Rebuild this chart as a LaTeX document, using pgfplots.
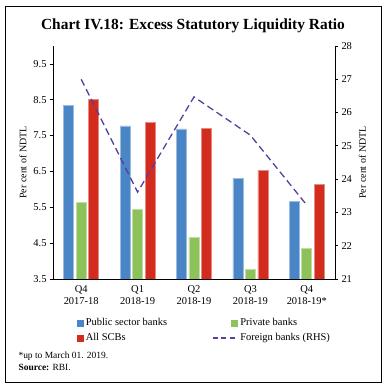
\documentclass[border=0pt]{standalone}
\usepackage{pgfplots}
\pgfplotsset{compat=1.18}
\usepackage{fontspec}
\setmainfont{Liberation Serif}
\definecolor{cblue}{HTML}{4A86C6}
\definecolor{cgreen}{HTML}{8DC25A}
\definecolor{cred}{HTML}{D42B1F}
\definecolor{cpurple}{HTML}{5B3D9C}
\begin{document}
\begin{tikzpicture}
\path[use as bounding box] (0bp,0bp) rectangle (387bp,390bp);
\draw[line width=0.9bp] (5bp,8bp) rectangle (381bp,384bp);
\node[font=\bfseries\fontsize{15.5}{17}\selectfont] at (193bp,364bp) {Chart IV.18: Excess Statutory Liquidity Ratio};
\node[anchor=base west, font=\fontsize{9.5}{11}\selectfont] at (15bp,32bp) {*up to March 01. 2019.};
\node[anchor=base west, font=\fontsize{9.5}{11}\selectfont] at (15bp,20bp) {\textbf{Source:} RBI.};
\begin{axis}[
  at={(53bp,111bp)}, anchor=south west,
  scale only axis, width=282bp, height=233bp,
  xmin=-0.5, xmax=4.5, ymin=3.5, ymax=10,
  axis y line*=left, axis x line*=bottom,
  axis line style={line width=0.8bp, -},
  xtick={0,1,2,3,4},
  xticklabels={{Q4\\2017-18},{Q1\\2018-19},{Q2\\2018-19},{Q3\\2018-19},{Q4\\2018-19*}},
  xticklabel style={align=center, font=\fontsize{10.5}{12}\selectfont},
  x tick style={draw=none},
  extra x ticks={0.5,1.5,2.5,3.5},
  extra x tick labels={},
  extra x tick style={tick style={draw=black, line width=0.8bp}, major tick length=3bp, tick pos=left, tick align=outside},
  ytick={3.5,4.5,...,9.5},
  yticklabel style={font=\fontsize{10.5}{12}\selectfont, /pgf/number format/.cd, fixed, fixed zerofill, precision=1},
  y tick style={line width=0.8bp, black},
  tick align=outside, major tick length=3bp,
  /pgf/number format/assume math mode=true,
  ylabel={Per cent of NDTL},
  ylabel style={font=\fontsize{10}{12}\selectfont},
  legend columns=2,
  legend cell align=left,
  legend style={at={(0.0177,-0.160)}, anchor=north west, draw=none, fill=none, inner sep=0pt,
    font=\fontsize{10.5}{12}\selectfont, row sep=2.5bp,
    /tikz/every even column/.append style={column sep=43bp}},
]
\addplot[ybar, bar width=10bp, bar shift=-12.5bp, fill=cblue, draw=cblue!55!white, line width=0.6bp,
  legend image code/.code={\fill[cblue] (19bp,-3bp) rectangle (25bp,3bp); \path (0bp,0bp);}]
  coordinates {(0,8.35) (1,7.77) (2,7.69) (3,6.31) (4,5.67)};
\addplot[ybar, bar width=10bp, bar shift=0bp, fill=cgreen, draw=cgreen!55!white, line width=0.6bp,
  legend image code/.code={\fill[cgreen] (19bp,-3bp) rectangle (25bp,3bp); \path (0bp,0bp);}]
  coordinates {(0,5.64) (1,5.44) (2,4.66) (3,3.77) (4,4.35)};
\addplot[ybar, bar width=10bp, bar shift=12.5bp, fill=cred, draw=cred!55!white, line width=0.6bp,
  legend image code/.code={\fill[cred] (19bp,-3bp) rectangle (25bp,3bp); \path (0bp,0bp);}]
  coordinates {(0,8.51) (1,7.87) (2,7.71) (3,6.53) (4,6.14)};
\addlegendimage{cpurple, line width=1.3bp, dash pattern=on 5bp off 3.5bp,
  legend image code/.code={\draw[cpurple, line width=1.3bp, dash pattern=on 5bp off 3.5bp] (0bp,0bp) -- (25bp,0bp);}}
\legend{Public sector banks, Private banks, All SCBs, Foreign banks (RHS)}
\end{axis}
\begin{axis}[
  at={(53bp,111bp)}, anchor=south west,
  scale only axis, width=282bp, height=233bp,
  xmin=-0.5, xmax=4.5, ymin=21, ymax=28,
  axis y line*=right, axis x line=none,
  axis line style={line width=0.8bp, -},
  ytick={21,22,...,28},
  yticklabel style={font=\fontsize{10.5}{12}\selectfont},
  y tick style={line width=0.8bp, black},
  tick align=outside, major tick length=3bp,
  /pgf/number format/assume math mode=true,
  ylabel={Per cent of NDTL},
  ylabel style={font=\fontsize{10}{12}\selectfont},
]
\addplot[cpurple, line width=1.3bp, dash pattern=on 7bp off 4bp]
  coordinates {(0,27.0) (1,23.61) (2,26.47) (3,25.32) (4,23.22)};
\end{axis}
\end{tikzpicture}
\end{document}
